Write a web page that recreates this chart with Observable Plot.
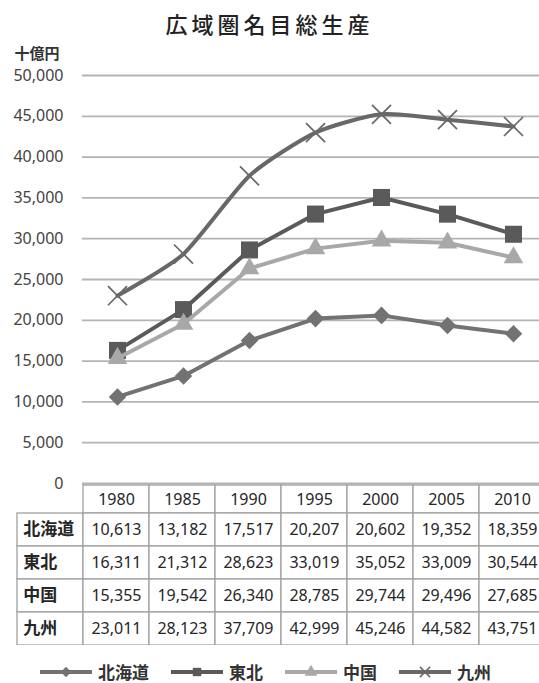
<!DOCTYPE html>
<html><head><meta charset="utf-8">
<script src="https://cdn.jsdelivr.net/npm/d3@7"></script>
<script src="https://cdn.jsdelivr.net/npm/@observablehq/plot@0.6"></script>
<style>
body{margin:0;background:#fff;}
#root{position:relative;width:539px;height:683px;overflow:hidden;background:#fff;font-family:"Noto Sans","Noto Sans CJK JP",sans-serif;}
#title{position:absolute;left:0;width:539px;top:6px;text-align:center;font-family:"Noto Sans CJK JP",sans-serif;font-size:22px;font-weight:500;letter-spacing:4px;color:#222;line-height:34px;white-space:nowrap}
#chart{position:absolute;left:0;top:40px}
#table{position:absolute;left:0;top:479px}
#legend{position:absolute;left:40px;top:660px;display:flex;align-items:center;height:24px}
.legitem{display:flex;align-items:center;margin-right:22px}
.legitem span{margin-left:6px;font-family:"Noto Sans CJK JP",sans-serif;font-weight:bold;font-size:17px;color:#333;line-height:24px}
</style></head>
<body><div id="root">
<div id="title">広域圏名目総生産</div>
<div id="chart"></div>
<div id="table"></div>
<div id="legend"></div>
</div>
<script>
const years = [1980, 1985, 1990, 1995, 2000, 2005, 2010];
const regions = ["北海道", "東北", "中国", "九州"];
const hokkaido = [10613, 13182, 17517, 20207, 20602, 19352, 18359];
const tohoku = [16311, 21312, 28623, 33019, 35052, 33009, 30544];
const chugoku = [15355, 19542, 26340, 28785, 29744, 29496, 27685];
const kyushu = [23011, 28123, 37709, 42999, 45246, 44582, 43751];
const yTicks = [0, 5000, 10000, 15000, 20000, 25000, 30000, 35000, 40000, 45000, 50000];
const unitLabel = "十億円";

const series = [
  {name: regions[0], values: hokkaido, color: "#727272", symbol: "diamond2", d3sym: d3.symbolDiamond2, r: 7.9, curve: "linear", filled: true},
  {name: regions[1], values: tohoku, color: "#5a5a5a", symbol: "square", d3sym: d3.symbolSquare, r: 9.6, curve: "linear", filled: true},
  {name: regions[2], values: chugoku, color: "#a8a8a8", symbol: "triangle", d3sym: d3.symbolTriangle, r: 7.3, curve: "linear", filled: true},
  {name: regions[3], values: kyushu, color: "#686868", symbol: "times", d3sym: d3.symbolTimes, r: 8.7, curve: "cardinal", tension: 0.35, filled: false}
];
const rows = series.flatMap(s => years.map((yr, i) => ({name: s.name, year: yr, value: s.values[i]})));

const colW = 66.45, left0 = 82;
const fmt = d3.format(",");

const chart = Plot.plot({
  width: 539, height: 455,
  marginTop: 35, marginBottom: 12, marginLeft: 82, marginRight: 0,
  x: {type: "point", domain: years, range: [left0 + colW / 2, left0 + colW * 6.5], padding: 0, axis: null},
  y: {domain: [0, 50000], axis: null},
  style: {background: "transparent", overflow: "visible", fontFamily: "Noto Sans", fontSize: "16px"},
  marks: [
    Plot.gridY(yTicks, {stroke: "#b4b4b4", strokeOpacity: 1, strokeWidth: 1.8}),
    Plot.axisY(yTicks, {tickSize: 0, tickPadding: 19, tickFormat: fmt, fontSize: 16, color: "#444", label: null}),
    Plot.text([unitLabel], {frameAnchor: "top-left", dx: -68, dy: -27, textAnchor: "start", fontSize: 15, fontWeight: "bold", fontFamily: "Noto Sans CJK JP", fill: "#333"}),
    ...series.flatMap(s => {
      const data = rows.filter(d => d.name === s.name);
      const lineOpts = {x: "year", y: "value", stroke: s.color, strokeWidth: 4, curve: s.curve};
      if (s.tension !== undefined) lineOpts.tension = s.tension;
      return [
        Plot.line(data, lineOpts),
        s.filled
          ? Plot.dot(data, {x: "year", y: "value", symbol: s.symbol, r: s.r, fill: s.color, stroke: "none"})
          : Plot.dot(data, {x: "year", y: "value", symbol: s.symbol, r: s.r, fill: "none", stroke: s.color, strokeWidth: 1.7})
      ];
    })
  ]
});
document.getElementById("chart").append(chart);

const cols = ["", ...years.map(String)];
const cellsHeader = years.map(y => ({col: String(y), row: "header", text: String(y)}));
const cellsLabel = regions.map(r => ({col: "", row: r, text: r}));
const cellsVal = series.flatMap(s => years.map((y, i) => ({col: String(y), row: s.name, text: fmt(s.values[i])})));

const table = Plot.plot({
  width: 539, height: 166, margin: 0,
  x: {type: "band", domain: cols, range: [left0 - colW, left0 + colW * 7], padding: 0, axis: null},
  y: {type: "band", domain: ["header", ...regions], range: [0.5, 165.5], padding: 0, axis: null},
  style: {background: "transparent", fontFamily: "Noto Sans", fontSize: "16px"},
  marks: [
    Plot.cell(cellsHeader, {x: "col", y: "row", fill: "white", stroke: "#a0a0a0", strokeWidth: 1.3, insetTop: 5}),
    Plot.cell([...cellsLabel, ...cellsVal], {x: "col", y: "row", fill: "white", stroke: "#a0a0a0", strokeWidth: 1.3}),
    Plot.text(cellsHeader, {x: "col", y: "row", text: "text", dy: 2.5, fontSize: 16, fill: "#262626"}),
    Plot.text(cellsVal, {x: "col", y: "row", text: "text", fontSize: 16, fill: "#262626"}),
    Plot.text(cellsLabel, {x: "col", y: "row", text: "text", textAnchor: "start", dx: -colW / 2 + 6, fontSize: 17, fontWeight: "bold", fontFamily: "Noto Sans CJK JP", fill: "#262626"})
  ]
});
document.getElementById("table").append(table);

const leg = d3.select("#legend");
series.forEach(s => {
  const item = leg.append("div").attr("class", "legitem");
  const svg = item.append("svg").attr("width", 52).attr("height", 20);
  svg.append("line").attr("x1", 0).attr("x2", 52).attr("y1", 10).attr("y2", 10)
    .attr("stroke", s.color).attr("stroke-width", 4);
  svg.append("path").attr("transform", "translate(26,10)")
    .attr("d", d3.symbol(s.d3sym, 70)())
    .attr("fill", s.filled ? s.color : "none")
    .attr("stroke", s.filled ? "none" : s.color)
    .attr("stroke-width", 1.5);
  item.append("span").text(s.name);
});
</script>
</body></html>
